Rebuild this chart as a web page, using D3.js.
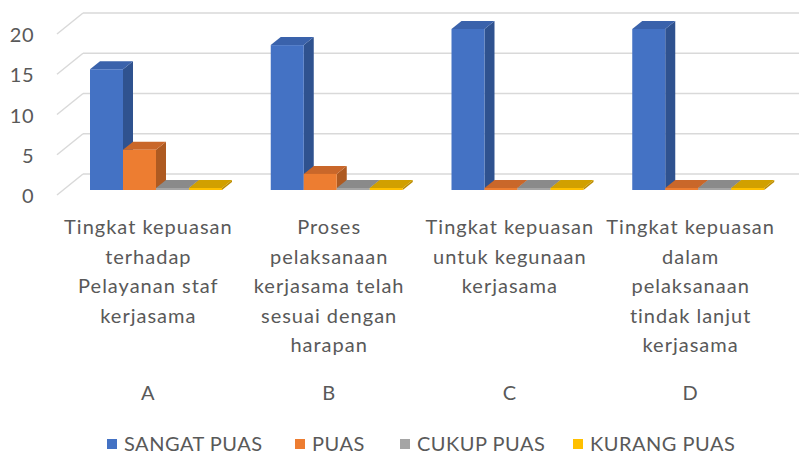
<!DOCTYPE html>
<html><head><meta charset="utf-8">
<script src="https://cdn.jsdelivr.net/npm/d3@7"></script>
<style>body{margin:0;background:#fff}svg{display:block}</style>
</head><body>
<script>
const categories = ["A","B","C","D"];
const categoryTitles = [
  ["Tingkat kepuasan","terhadap","Pelayanan staf","kerjasama"],
  ["Proses","pelaksanaan","kerjasama telah","sesuai dengan","harapan"],
  ["Tingkat kepuasan","untuk kegunaan","kerjasama"],
  ["Tingkat kepuasan","dalam","pelaksanaan","tindak lanjut","kerjasama"]
];
const seriesNames = ["SANGAT PUAS","PUAS","CUKUP PUAS","KURANG PUAS"];
const sangatPuas = [15,18,20,20];
const puas = [5,2,0,0];
const cukupPuas = [0,0,0,0];
const kurangPuas = [0,0,0,0];
const seriesValues = [sangatPuas,puas,cukupPuas,kurangPuas];
const yTicks = [0,5,10,15,20];

const W=799,H=454;
const front = ["#4472C4","#ED7D31","#A5A5A5","#FFC000"];
const side  = ["#2F528F","#AE5A21","#7C7C7C","#BC8C00"];
const top_  = ["#3A62AB","#C9672A","#8A8A8A","#D1A000"];
const font = "Lato, 'Open Sans', sans-serif";
const textColor = "#595959";

const svg=d3.select("body").append("svg").attr("width",W).attr("height",H);

const y=d3.scaleLinear().domain([0,20]).range([190,29]);
const x=d3.scaleBand().domain(categories).range([58,781]);
const xs=d3.scaleBand().domain(seriesNames).range([32,164]);
const bdx=10, bdy=-8;       // bar depth
const wallDy=-16, wallX=83; // back wall
const diagDx=26, diagDy=21;

// back wall gridlines + floor diagonals
const grid=svg.append("g");
yTicks.forEach(t=>{
  const yb=y(t)+wallDy;
  grid.append("line").attr("x1",wallX).attr("x2",W).attr("y1",yb).attr("y2",yb)
    .attr("stroke","#d9d9d9").attr("stroke-width",1.5);
  grid.append("line").attr("x1",wallX-diagDx).attr("y1",yb+diagDy).attr("x2",wallX).attr("y2",yb)
    .attr("stroke","#d9d9d9").attr("stroke-width",1.5);
  svg.append("text").attr("x",34).attr("y",yb+diagDy).attr("text-anchor","end")
    .attr("dominant-baseline","central").attr("font-family",font).attr("font-size",20)
    .attr("fill",textColor).attr("letter-spacing",0.5).text(t);
});

// bars
const bars=svg.append("g");
categories.forEach((c,ci)=>{
  seriesNames.forEach((s,si)=>{
    const v=seriesValues[si][ci];
    const x0=x(c)+xs(s), x1=x0+xs.bandwidth();
    const y0=y(0);
    let yt=y(v); if(y0-yt<2) yt=y0-2;
    const g=bars.append("g");
    g.append("path").attr("d",`M${x1},${y0}L${x1+bdx},${y0+bdy}L${x1+bdx},${yt+bdy}L${x1},${yt}Z`).attr("fill",side[si]);
    g.append("path").attr("d",`M${x0},${yt}L${x0+bdx},${yt+bdy}L${x1+bdx},${yt+bdy}L${x1},${yt}Z`).attr("fill",top_[si]);
    g.append("rect").attr("x",x0).attr("y",yt).attr("width",x1-x0).attr("height",y0-yt).attr("fill",front[si]);
  });
});

// category labels
const lab=svg.append("g").attr("font-family",font).attr("font-size",20).attr("fill",textColor)
  .attr("text-anchor","middle").attr("letter-spacing",1);
categories.forEach((c,ci)=>{
  const cx=x(c)+x.bandwidth()/2;
  categoryTitles[ci].forEach((line,li)=>{
    lab.append("text").attr("x",cx).attr("y",226+li*29.5).attr("dominant-baseline","central").text(line);
  });
  lab.append("text").attr("x",cx).attr("y",392).attr("dominant-baseline","central").text(c);
});

// legend
const legX=[107,295,400,573];
const leg=svg.append("g").attr("font-family",font).attr("font-size",20).attr("fill",textColor).attr("letter-spacing",0.5);
seriesNames.forEach((s,si)=>{
  leg.append("rect").attr("x",legX[si]).attr("y",439).attr("width",10).attr("height",10).attr("fill",front[si]);
  leg.append("text").attr("x",legX[si]+17).attr("y",443).attr("dominant-baseline","central").text(s);
});
</script>
</body></html>
